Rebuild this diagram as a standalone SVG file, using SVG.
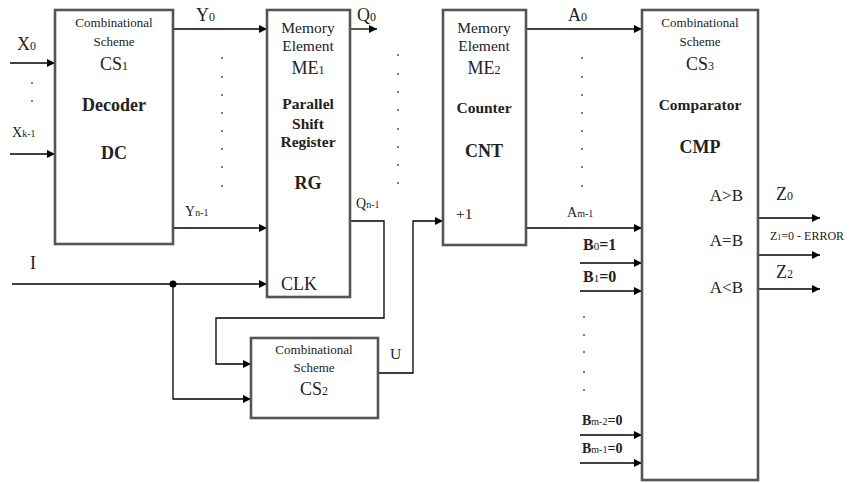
<svg xmlns="http://www.w3.org/2000/svg" width="862" height="483" viewBox="0 0 862 483" font-family="'Liberation Serif', 'DejaVu Serif', 'Times New Roman', serif">
<style>
.box{fill:#fff;stroke:#555;stroke-width:2.6}
.ln{fill:none;stroke:#000;stroke-width:1.3}
text{font-family:'Liberation Serif','DejaVu Serif','Times New Roman',serif;fill:#222}
.sm{font-size:13px}
.md{font-size:15.5px}
.lg{font-size:18px}
.b{font-weight:bold}
.c{text-anchor:middle}
.dot{fill:#555}
</style>
<defs>
<marker id="ar" viewBox="0 0 10 10" refX="10" refY="5" markerWidth="8" markerHeight="8" markerUnits="userSpaceOnUse" orient="auto">
<path d="M0,0 L10,5 L0,10 z" fill="#000"/>
</marker>
</defs>
<g id="connectors">
<line class="ln" x1="10" y1="63" x2="55" y2="63" marker-end="url(#ar)"/>
<line class="ln" x1="10" y1="154" x2="55" y2="154" marker-end="url(#ar)"/>
<line class="ln" x1="173" y1="29" x2="267" y2="29" marker-end="url(#ar)"/>
<line class="ln" x1="173" y1="228" x2="267" y2="228" marker-end="url(#ar)"/>
<line class="ln" x1="350" y1="29" x2="377" y2="29" marker-end="url(#ar)"/>
<polyline class="ln" points="350,221 384,221 384,318 216,318 216,364 251,364" marker-end="url(#ar)"/>
<line class="ln" x1="12" y1="284" x2="267" y2="284" marker-end="url(#ar)"/>
<circle cx="173" cy="284" r="3.5" fill="#000"/>
<polyline class="ln" points="173,284 173,399 251,399" marker-end="url(#ar)"/>
<polyline class="ln" points="378,373 413,373 413,221 443,221" marker-end="url(#ar)"/>
<line class="ln" x1="526" y1="29" x2="642" y2="29" marker-end="url(#ar)"/>
<line class="ln" x1="526" y1="228" x2="642" y2="228" marker-end="url(#ar)"/>
<line class="ln" x1="580" y1="263" x2="642" y2="263" marker-end="url(#ar)"/>
<line class="ln" x1="580" y1="291" x2="642" y2="291" marker-end="url(#ar)"/>
<line class="ln" x1="580" y1="435" x2="642" y2="435" marker-end="url(#ar)"/>
<line class="ln" x1="580" y1="463" x2="642" y2="463" marker-end="url(#ar)"/>
<line class="ln" x1="758" y1="218" x2="820" y2="218" marker-end="url(#ar)"/>
<line class="ln" x1="758" y1="255" x2="820" y2="255" marker-end="url(#ar)"/>
<line class="ln" x1="758" y1="289" x2="820" y2="289" marker-end="url(#ar)"/>
</g>
<g id="labels">
<text x="17" y="50" class="lg">X<tspan font-size="12">0</tspan></text>
<circle class="dot" cx="32" cy="83" r="1"/>
<circle class="dot" cx="32" cy="101" r="1"/>
<text x="12" y="137" font-size="14">X<tspan font-size="10">k-1</tspan></text>
<text x="196" y="21" class="lg">Y<tspan font-size="12">0</tspan></text>
<text x="185" y="216" font-size="14">Y<tspan font-size="10">n-1</tspan></text>
<text x="357" y="21" class="lg">Q<tspan font-size="12">0</tspan></text>
<text x="356" y="208" font-size="14">Q<tspan font-size="10">n-1</tspan></text>
<text x="30" y="269" class="lg">I</text>
<text x="390" y="359" class="md">U</text>
<text x="568" y="21" class="lg">A<tspan font-size="12">0</tspan></text>
<text x="567" y="217" font-size="14">A<tspan font-size="10">m-1</tspan></text>
<text x="583" y="250" font-size="16" class="b">B<tspan font-size="11" font-weight="normal">0</tspan>=1</text>
<text x="583" y="282" font-size="16" class="b">B<tspan font-size="11" font-weight="normal">1</tspan>=0</text>
<text x="582" y="425" font-size="14" class="b">B<tspan font-size="10" font-weight="normal">m-2</tspan>=0</text>
<text x="582" y="453" font-size="14" class="b">B<tspan font-size="10" font-weight="normal">m-1</tspan>=0</text>
<text x="776" y="200" class="lg">Z<tspan font-size="12">0</tspan></text>
<text x="770" y="240" font-size="12">Z<tspan font-size="8">1</tspan>=0 - ERROR</text>
<text x="776" y="278" class="lg">Z<tspan font-size="12">2</tspan></text>
<g class="dot">
<circle cx="222" cy="58" r="1"/><circle cx="222" cy="77" r="1"/><circle cx="222" cy="95" r="1"/><circle cx="222" cy="113" r="1"/><circle cx="222" cy="131" r="1"/><circle cx="222" cy="149" r="1"/><circle cx="222" cy="167" r="1"/><circle cx="222" cy="186" r="1"/>
<circle cx="398" cy="55" r="1"/><circle cx="398" cy="74" r="1"/><circle cx="398" cy="92" r="1"/><circle cx="398" cy="110" r="1"/><circle cx="398" cy="129" r="1"/><circle cx="398" cy="147" r="1"/><circle cx="398" cy="165" r="1"/><circle cx="398" cy="183" r="1"/>
<circle cx="582" cy="58" r="1"/><circle cx="582" cy="77" r="1"/><circle cx="582" cy="95" r="1"/><circle cx="582" cy="113" r="1"/><circle cx="582" cy="131" r="1"/><circle cx="582" cy="149" r="1"/><circle cx="582" cy="167" r="1"/><circle cx="582" cy="186" r="1"/>
<circle cx="584" cy="317" r="1"/><circle cx="584" cy="335" r="1"/><circle cx="584" cy="352" r="1"/><circle cx="584" cy="372" r="1"/><circle cx="584" cy="390" r="1"/>
</g>
</g>
<g id="cs1">
<rect class="box" x="55" y="10" width="118" height="234"/>
<text x="114" y="27" class="sm c">Combinational</text>
<text x="114" y="46" class="sm c">Scheme</text>
<text x="114" y="70" class="lg c">CS<tspan font-size="12">1</tspan></text>
<text x="114" y="111" class="lg c b">Decoder</text>
<text x="114" y="159" class="lg c b">DC</text>
</g>
<g id="rg">
<rect class="box" x="267" y="10" width="83" height="287"/>
<text x="308" y="33" class="md c">Memory</text>
<text x="308" y="51" class="md c">Element</text>
<text x="308" y="74" class="lg c">ME<tspan font-size="12">1</tspan></text>
<text x="308" y="109" class="md c b">Parallel</text>
<text x="308" y="129" class="md c b">Shift</text>
<text x="308" y="147" class="md c b">Register</text>
<text x="308" y="189" class="lg c b">RG</text>
<text x="281" y="290" class="lg">CLK</text>
</g>
<g id="cs2">
<rect class="box" x="251" y="338" width="127" height="80"/>
<text x="314" y="354" class="sm c">Combinational</text>
<text x="314" y="372" class="sm c">Scheme</text>
<text x="314" y="395" class="lg c">CS<tspan font-size="12">2</tspan></text>
</g>
<g id="cnt">
<rect class="box" x="443" y="10" width="83" height="235"/>
<text x="484" y="33" class="md c">Memory</text>
<text x="484" y="51" class="md c">Element</text>
<text x="484" y="74" class="lg c">ME<tspan font-size="12">2</tspan></text>
<text x="484" y="113" class="md c b">Counter</text>
<text x="484" y="157" class="lg c b">CNT</text>
<text x="456" y="219" class="md">+1</text>
</g>
<g id="cmp">
<rect class="box" x="642" y="10" width="116" height="470"/>
<text x="700" y="27" class="sm c">Combinational</text>
<text x="700" y="46" class="sm c">Scheme</text>
<text x="700" y="70" class="lg c">CS<tspan font-size="12">3</tspan></text>
<text x="700" y="110" class="md c b">Comparator</text>
<text x="700" y="153" class="lg c b">CMP</text>
<text x="743" y="201" font-size="17" text-anchor="end">A&gt;B</text>
<text x="743" y="246" font-size="17" text-anchor="end">A=B</text>
<text x="743" y="293" font-size="17" text-anchor="end">A&lt;B</text>
</g>
</svg>
